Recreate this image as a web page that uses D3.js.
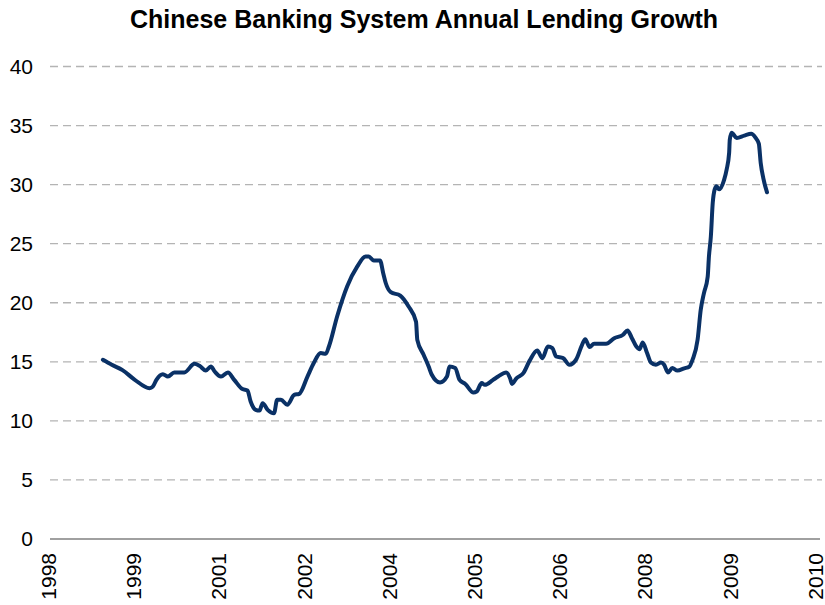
<!DOCTYPE html>
<html>
<head>
    <title>Lending Growth</title>
    <script src="https://d3js.org/d3.v7.min.js"></script>
    <style>
        body { margin: 0; background: #fff; }
        text { font-family: "Liberation Sans", Arial, sans-serif; fill: #000; }
    </style>
</head>
<body>
<div id="chart"></div>
<script type="text/javascript">
    // dates as fractional years, values in %
    const dates = [
        1999.49, 1999.63, 1999.80, 1999.99, 2000.23, 2000.28, 2000.34, 2000.44, 2000.52, 2000.62,
        2000.78, 2000.94, 2001.02, 2001.12, 2001.20, 2001.26, 2001.36, 2001.47, 2001.57, 2001.70,
        2001.78, 2001.83, 2001.91, 2001.97, 2002.02, 2002.10, 2002.20, 2002.25, 2002.31, 2002.41,
        2002.52, 2002.60, 2002.73, 2002.83, 2002.94, 2003.02, 2003.07, 2003.20, 2003.36, 2003.52,
        2003.65, 2003.70, 2003.78, 2003.88, 2003.93, 2003.97, 2004.05, 2004.20, 2004.33, 2004.45,
        2004.47, 2004.57, 2004.65, 2004.70, 2004.83, 2004.94, 2004.98, 2005.07, 2005.14, 2005.23,
        2005.36, 2005.41, 2005.49, 2005.54, 2005.67, 2005.75, 2005.88, 2005.94, 2005.97, 2006.04,
        2006.15, 2006.25, 2006.37, 2006.45, 2006.54, 2006.61, 2006.67, 2006.78, 2006.88, 2006.99,
        2007.08, 2007.13, 2007.20, 2007.27, 2007.46, 2007.59, 2007.73, 2007.80, 2007.87, 2007.94,
        2007.99, 2008.04, 2008.11, 2008.17, 2008.25, 2008.33, 2008.38, 2008.44, 2008.51, 2008.59,
        2008.70, 2008.78, 2008.83, 2008.91, 2008.96, 2009.01, 2009.07, 2009.09, 2009.12, 2009.15,
        2009.18, 2009.21, 2009.25, 2009.33, 2009.37, 2009.41, 2009.42, 2009.45, 2009.53, 2009.65,
        2009.76, 2009.83, 2009.88, 2009.91, 2009.95, 2010.01
    ];
    const growth = [
        15.17, 14.75, 14.30, 13.50, 12.77, 12.90, 13.50, 13.95, 13.75, 14.10,
        14.10, 14.83, 14.66, 14.26, 14.60, 14.18, 13.75, 14.10, 13.47, 12.69,
        12.57, 11.64, 10.93, 10.87, 11.50, 10.93, 10.65, 11.78, 11.78, 11.36,
        12.20, 12.29, 13.75, 14.90, 15.74, 15.68, 16.30, 18.84, 21.40, 23.08,
        23.92, 23.92, 23.58, 23.58, 22.50, 21.67, 20.90, 20.60, 19.70, 18.40,
        16.86, 15.60, 14.60, 13.90, 13.25, 13.75, 14.60, 14.47, 13.47, 13.13,
        12.40, 12.48, 13.20, 13.05, 13.47, 13.75, 14.10, 13.60, 13.13, 13.60,
        14.04, 15.10, 15.96, 15.31, 16.30, 16.16, 15.45, 15.31, 14.75, 15.23,
        16.44, 16.92, 16.25, 16.53, 16.53, 17.00, 17.29, 17.65, 17.00, 16.30,
        16.07, 16.64, 15.74, 14.94, 14.75, 14.94, 14.75, 14.10, 14.47, 14.26,
        14.45, 14.60, 15.17, 16.86, 19.40, 20.80, 22.20, 23.92, 25.60, 28.45,
        29.58, 29.86, 29.60, 30.40, 31.27, 32.70, 33.80, 34.40, 33.95, 34.15,
        34.30, 33.95, 33.47, 31.84, 30.57, 29.35
    ];

    // x axis: evenly spaced date ticks (excel style)
    const tickLabels = ['1998', '1999', '2001', '2002', '2004', '2005', '2006', '2008', '2009', '2010'];
    const tickStart = 1998.62;
    const tickStep = 1.35;
    const yTicks = [0, 5, 10, 15, 20, 25, 30, 35, 40];

    const width = 825;
    const height = 605;

    const svg = d3.select('#chart').append('svg')
        .attr('width', width).attr('height', height);

    const tickValues = tickLabels.map((d, i) => tickStart + i * tickStep);

    const x = d3.scaleLinear()
        .domain([tickStart, tickStart + (tickLabels.length - 1) * tickStep])
        .range([48, 815]);
    const y = d3.scaleLinear().domain([0, 40]).range([539, 66.5]);

    // title
    svg.append('text')
        .attr('x', 424).attr('y', 28)
        .attr('text-anchor', 'middle')
        .style('font-size', '25px').style('font-weight', 'bold')
        .text('Chinese Banking System Annual Lending Growth');

    // gridlines
    svg.append('g').selectAll('line')
        .data(yTicks.filter(d => d > 0))
        .enter().append('line')
        .attr('x1', 50).attr('x2', 822)
        .attr('y1', d => y(d)).attr('y2', d => y(d))
        .attr('stroke', '#b4b4b4').attr('stroke-width', 1.3)
        .attr('stroke-dasharray', '8,5');

    // y labels
    const yAxis = d3.axisLeft(y).tickValues(yTicks).tickSize(0).tickPadding(0);
    svg.append('g')
        .attr('transform', 'translate(33,0)')
        .call(yAxis)
        .call(g => g.select('.domain').remove())
        .selectAll('text')
        .style('font-size', '21px')
        .style('font-family', '"Liberation Sans", Arial, sans-serif')
        .attr('fill', '#000');

    // x axis
    const xAxis = d3.axisBottom(x).tickValues(tickValues)
        .tickFormat((d, i) => tickLabels[i]).tickSize(0).tickPadding(0);
    const xg = svg.append('g')
        .attr('transform', `translate(0,${y(0)})`)
        .call(xAxis);
    xg.select('.domain').remove();
    xg.append('line')
        .attr('x1', 50).attr('x2', 820)
        .attr('stroke', '#808080').attr('stroke-width', 1.5);
    xg.selectAll('.tick text')
        .style('font-size', '21px')
        .style('font-family', '"Liberation Sans", Arial, sans-serif')
        .attr('fill', '#000')
        .attr('text-anchor', 'end')
        .attr('transform', 'rotate(-90)')
        .attr('x', -14).attr('y', 0).attr('dy', '0.35em');

    // the line
    const line = d3.line()
        .x((d, i) => x(dates[i]))
        .y(d => y(d))
        .curve(d3.curveMonotoneX);

    svg.append('path')
        .datum(growth)
        .attr('fill', 'none')
        .attr('stroke', '#0a3166')
        .attr('stroke-width', 4)
        .attr('stroke-linejoin', 'round')
        .attr('stroke-linecap', 'round')
        .attr('d', line);
</script>
</body>
</html>
